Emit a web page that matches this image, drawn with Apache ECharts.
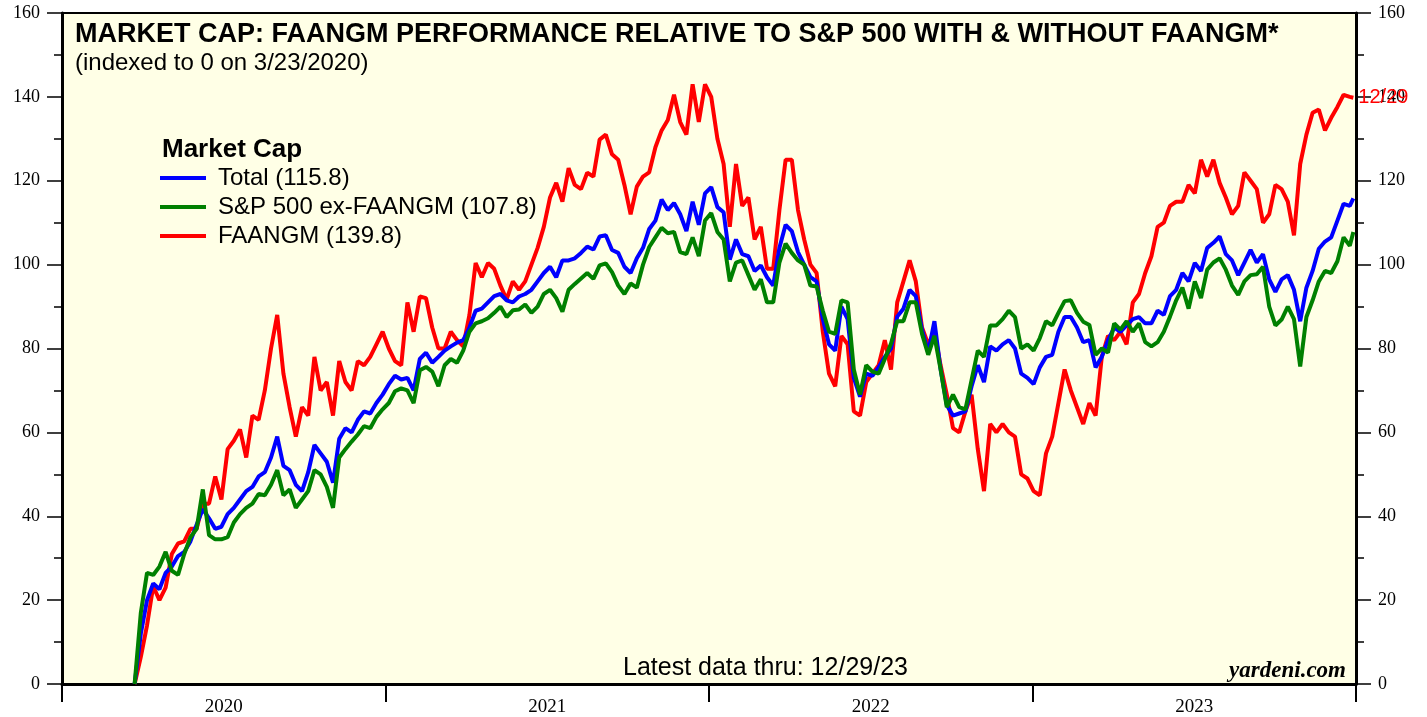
<!DOCTYPE html>
<html>
<head>
<meta charset="utf-8">
<script src="https://cdn.jsdelivr.net/npm/echarts@6/dist/echarts.min.js"></script>
<style>
html,body{margin:0;padding:0;background:#fff;}
#chart{width:1427px;height:717px;}
</style>
</head>
<body>
<div id="chart"></div>
<script>
// ---- data (weekly readings, indexed to 0 on 3/23/2020) ----
const dates = [
'2020-03-23','2020-03-30','2020-04-06','2020-04-13','2020-04-20','2020-04-27','2020-05-04','2020-05-11','2020-05-18','2020-05-25',
'2020-06-01','2020-06-08','2020-06-15','2020-06-22','2020-06-29','2020-07-06','2020-07-13','2020-07-20','2020-07-27','2020-08-03',
'2020-08-10','2020-08-17','2020-08-24','2020-08-31','2020-09-07','2020-09-14','2020-09-21','2020-09-28','2020-10-05','2020-10-12',
'2020-10-19','2020-10-26','2020-11-02','2020-11-09','2020-11-16','2020-11-23','2020-11-30','2020-12-07','2020-12-14','2020-12-21',
'2020-12-28','2021-01-04','2021-01-11','2021-01-18','2021-01-25','2021-02-01','2021-02-08','2021-02-15','2021-02-22','2021-03-01',
'2021-03-08','2021-03-15','2021-03-22','2021-03-29','2021-04-05','2021-04-12','2021-04-19','2021-04-26','2021-05-03','2021-05-10',
'2021-05-17','2021-05-24','2021-05-31','2021-06-07','2021-06-14','2021-06-21','2021-06-28','2021-07-05','2021-07-12','2021-07-19',
'2021-07-26','2021-08-02','2021-08-09','2021-08-16','2021-08-23','2021-08-30','2021-09-06','2021-09-13','2021-09-20','2021-09-27',
'2021-10-04','2021-10-11','2021-10-18','2021-10-25','2021-11-01','2021-11-08','2021-11-15','2021-11-22','2021-11-29','2021-12-06',
'2021-12-13','2021-12-20','2021-12-27','2022-01-03','2022-01-10','2022-01-17','2022-01-24','2022-01-31','2022-02-07','2022-02-14',
'2022-02-21','2022-02-28','2022-03-07','2022-03-14','2022-03-21','2022-03-28','2022-04-04','2022-04-11','2022-04-18','2022-04-25',
'2022-05-02','2022-05-09','2022-05-16','2022-05-23','2022-05-30','2022-06-06','2022-06-13','2022-06-20','2022-06-27','2022-07-04',
'2022-07-11','2022-07-18','2022-07-25','2022-08-01','2022-08-08','2022-08-15','2022-08-22','2022-08-29','2022-09-05','2022-09-12',
'2022-09-19','2022-09-26','2022-10-03','2022-10-10','2022-10-17','2022-10-24','2022-10-31','2022-11-07','2022-11-14','2022-11-21',
'2022-11-28','2022-12-05','2022-12-12','2022-12-19','2022-12-26','2023-01-02','2023-01-09','2023-01-16','2023-01-23','2023-01-30',
'2023-02-06','2023-02-13','2023-02-20','2023-02-27','2023-03-06','2023-03-13','2023-03-20','2023-03-27','2023-04-03','2023-04-10',
'2023-04-17','2023-04-24','2023-05-01','2023-05-08','2023-05-15','2023-05-22','2023-05-29','2023-06-05','2023-06-12','2023-06-19',
'2023-06-26','2023-07-03','2023-07-10','2023-07-17','2023-07-24','2023-07-31','2023-08-07','2023-08-14','2023-08-21','2023-08-28',
'2023-09-04','2023-09-11','2023-09-18','2023-09-25','2023-10-02','2023-10-09','2023-10-16','2023-10-23','2023-10-30','2023-11-06',
'2023-11-13','2023-11-20','2023-11-27','2023-12-04','2023-12-11','2023-12-18','2023-12-25','2023-12-29'
];

const faangm = [
0,6.5,14,23.3,20,23,31,33.5,34,37,
37,43,43,49.5,44,56,58,60.7,54,64,
63,70,80,88,74,66,59,66,64,78,
70,72,64,77,72,70,77,76,78,81,
84,80,77,76,91,84,92.4,92,85,80,
80,84,82,80.5,88,100.4,97,100.4,99,95,
91.7,96,94,96,100,104,109,116,119.5,115,
123,119,118,121.9,121,129.8,131,126.3,125,119,
112,118.6,121,122,128,132,134.5,140.5,134,131,
143,134,143,140,130,124,109,124,114,116,
106,109,99,99,113,125,125,113,106,100,
98,84,74,71,83,81,65,64,72,74,
76,82,75,91,96,101,96,85,81,84,
76,69,61,60,65,69,56,46,62,60,
62,60,59,50,49,46,45,55,59,67,
75,70,66,62,67,64,78,83,82,84,
81,91,93,98,102,109,110,114,115,115,
119,117,125,121,125,119.5,116,112,114,122,
120,118,110,112,119,118,115,107,124,131,
136.2,137,132,135,137.6,140.5,140,139.8
];

const total = [
0,12,20,24,22.6,26.5,28,30.5,31.5,34,
38,41.7,39.5,37,37.5,40.5,42,44,46,47,
49.5,50.5,54,59,52,51,47.5,46,50.5,57,
55,53,48,58.5,61,60,63,65,64.5,67,
69,71.5,73.5,72.6,73,70,77.5,79,76.6,78,
79.5,80.5,81.4,82,85,89,89.5,91,92.5,93,
91.5,91,92.4,93,94,96,98,99.5,97,101,
101,101.5,102.8,104.3,103.6,106.7,107,103.5,102.8,99.5,
98,101.5,104,108.5,110.5,115.5,113,114.7,112,108,
115,109.5,117,118.5,113.7,112.5,101.2,106,102.5,102,
98.5,99.8,97,95,104,109.5,108,103,100,97,
96,87,81,79.5,90,87,73,68.5,74,73.5,
75.5,78,80,87.6,89.5,94,92.5,84.5,79,86.5,
75,66.5,64,64.5,65,71,76,72,80.5,79.5,
81,82,80,74,73,71.5,75.5,78,78.5,84,
87.5,87.5,85,81.5,82,75.5,78,82,85,84,
85.5,87,87.5,86,86,89,88,92.5,94,98,
96,100.4,98.5,104,105.2,106.7,102.5,101,97.5,100.5,
103.5,100.5,102.5,96.5,93.5,96.5,97.5,94,86.5,94.5,
98.5,103.8,105.5,106.5,110.5,114.5,114,115.8
];

const exFaangm = [
0,17,26.5,26,28,31.5,27,26,31,35,
37,46.4,35.5,34.5,34.5,35,38.5,40.5,42,43,
45.3,45,47.5,51,45,46.4,42,44,46,51,
50,47,42,54,56,57.8,59.5,61.5,61,63.7,
65.5,67,69.8,70.5,70,67,74.8,75.6,74.5,71,
76,77.5,76.6,79.5,84,86,86.5,87.2,88.5,90,
87.5,89.1,89.3,90.5,88.5,90,93,94,92,88.8,
94,95.4,96.7,98,96.6,99.8,100.3,98.2,95,93,
95.5,94.5,100,104.2,106.5,108.8,107.5,107.8,103,102.5,
106.5,102,110.5,112.3,107.8,106,96,100.5,101,97.5,
94,96.5,91,91,100.5,105,102.8,101,100,95,
94.8,89,84,83.5,91.5,91,75,69,76,74.5,
74,77.5,81.2,86.5,86.5,91,91,83.5,78.5,83,
75,66,69,66,65.5,72.5,79.5,78,85.5,85.5,
87,89,87.5,80,81,79.5,82.5,86.5,85.5,88.5,
91.3,91.5,88.5,86.4,85.6,78.5,80,79,86,84.5,
86.5,84,86,81.5,80.5,81.5,84,87.6,91.5,94.5,
89.5,96,92,98.8,100.5,101.5,98.8,95,92.8,96,
97.5,97.7,99.5,90,85.5,86.9,90,87,75.7,87.5,
91.5,96,98.5,98,100.8,106.5,104.5,107.8
];

const seriesLabels = ['Total', 'S&P 500 ex-FAANGM', 'FAANGM'];
const lastValues = ['115.8', '107.8', '139.8'];
const yearLabels = ['2020', '2021', '2022', '2023'];
const endLabelText = '12/29';

const names = seriesLabels.map((s, i) => s + ' (' + lastValues[i] + ')');
const pairs = arr => arr.map((v, i) => [dates[i], v]);

const serif = 'Liberation Serif';
const sans = 'Liberation Sans';

const yAxisCommon = {
  type: 'value', min: 0, max: 160, interval: 20,
  axisLine: { show: true, lineStyle: { color: '#000', width: 3 } },
  axisTick: { show: true, length: 15, lineStyle: { color: '#000', width: 1.5 } },
  minorTick: { show: true, splitNumber: 2, length: 8, lineStyle: { color: '#000', width: 1.5 } },
  splitLine: { show: false },
  axisLabel: { fontFamily: serif, fontSize: 18, color: '#000', margin: 22 }
};

const chart = echarts.init(document.getElementById('chart'));
chart.setOption({
  animation: false,
  backgroundColor: '#fff',
  title: [
    {
      text: 'MARKET CAP: FAANGM PERFORMANCE RELATIVE TO S&P 500 WITH & WITHOUT FAANGM*',
      subtext: '(indexed to 0 on 3/23/2020)',
      left: 75, top: 21, itemGap: 3, padding: 0,
      textStyle: { fontFamily: sans, fontSize: 27, fontWeight: 'bold', color: '#000' },
      subtextStyle: { fontFamily: sans, fontSize: 24, color: '#000' }
    },
    {
      text: 'Market Cap', left: 162, top: 137, padding: 0,
      textStyle: { fontFamily: sans, fontSize: 26, fontWeight: 'bold', color: '#000' }
    },
    {
      text: 'Latest data thru: 12/29/23', left: 623, top: 656, padding: 0,
      textStyle: { fontFamily: sans, fontSize: 25, fontWeight: 'normal', color: '#000' }
    },
    {
      text: 'yardeni.com', right: 81, top: 660, padding: 0,
      textStyle: { fontFamily: serif, fontSize: 23, fontWeight: 'bold', fontStyle: 'italic', color: '#000' }
    }
  ],
  legend: {
    data: names,
    orient: 'vertical', left: 160, top: 166, icon: 'rect',
    itemWidth: 46, itemHeight: 4, itemGap: 5, padding: 0,
    textStyle: { fontFamily: sans, fontSize: 24, lineHeight: 24, color: '#000', padding: [0, 0, 0, 7] },
    selectedMode: false
  },
  grid: {
    left: 62, right: 71, top: 13, bottom: 32,
    show: true, backgroundColor: '#FFFFE6', borderColor: '#000', borderWidth: 2
  },
  xAxis: [
    {
      type: 'time', min: '2020-01-01', max: '2024-01-01',
      axisLine: { show: true, lineStyle: { color: '#000', width: 3 } },
      axisTick: { show: false }, axisLabel: { show: false }, splitLine: { show: false }
    },
    {
      type: 'category', data: yearLabels, boundaryGap: true, position: 'bottom',
      axisLine: { show: false },
      axisTick: { show: true, length: 18, interval: 0, lineStyle: { color: '#000', width: 2 } },
      axisLabel: { fontFamily: serif, fontSize: 19, color: '#000', margin: 14 },
      splitLine: { show: false }
    }
  ],
  yAxis: [
    Object.assign({}, yAxisCommon, { position: 'left' }),
    Object.assign({}, yAxisCommon, { position: 'right' })
  ],
  series: [
    {
      name: names[2], type: 'line', data: pairs(faangm), xAxisIndex: 0, yAxisIndex: 0,
      symbol: 'none', lineStyle: { color: '#FF0000', width: 4 }, itemStyle: { color: '#FF0000' },
      endLabel: { show: true, formatter: endLabelText, color: '#FF0000', fontFamily: sans, fontSize: 20, distance: 5 }
    },
    {
      name: names[0], type: 'line', data: pairs(total), xAxisIndex: 0, yAxisIndex: 0,
      symbol: 'none', lineStyle: { color: '#0000FF', width: 4 }, itemStyle: { color: '#0000FF' }
    },
    {
      name: names[1], type: 'line', data: pairs(exFaangm), xAxisIndex: 0, yAxisIndex: 0,
      symbol: 'none', lineStyle: { color: '#008000', width: 4 }, itemStyle: { color: '#008000' }
    }
  ]
});
</script>
</body>
</html>
